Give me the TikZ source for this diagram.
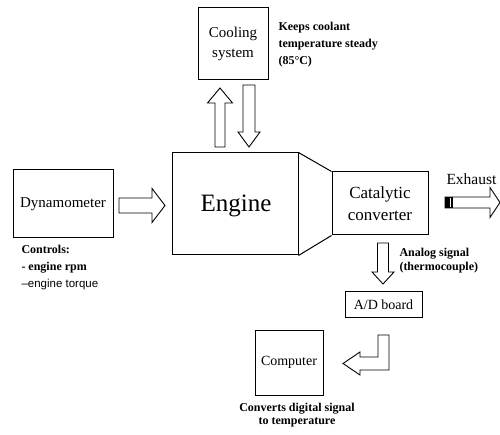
\documentclass[tikz,border=0pt]{standalone}
\usepackage{fontspec}
\setmainfont{Liberation Serif}
\newfontfamily\annsans{Liberation Sans}
\usetikzlibrary{calc}
\newcommand\blockarr[6]{% start, angle, length, shaft half, head half, head length
  \begin{scope}[shift={(#1)},rotate=#2]
    \draw[blk] (0,-#4) -- ({#3-#6},-#4) -- ({#3-#6},-#5) -- (#3,0) -- ({#3-#6},#5) -- ({#3-#6},#4) -- (0,#4) -- cycle;
  \end{scope}}
\begin{document}
\begin{tikzpicture}[x=1pt,y=-1pt,line width=1pt,
  box/.style={draw,line width=1pt,inner sep=0pt,align=center},
  blk/.style={draw,fill=white,line width=0.9pt,line join=miter},
  ann/.style={font=\bfseries\fontsize{12}{17}\selectfont,inner sep=0pt,align=left},
  lbl/.style={font=\fontsize{15}{20}\selectfont}]
\useasboundingbox[fill=white] (0,0) rectangle (500,435);
% boxes
\node[box,lbl,minimum width=70pt,minimum height=72pt] (cool) at (233,44) {Cooling\\system};
\node[box,lbl,minimum width=100pt,minimum height=68pt] (dyn) at (63,204) {Dynamometer};
\node[box,minimum width=126pt,minimum height=102pt] (eng) at (235,204) {};
\node[font=\fontsize{25}{30}\selectfont,anchor=base] (engt) at (236,212) {Engine};
\node[box,font=\fontsize{17}{22}\selectfont,minimum width=96pt,minimum height=63pt] (cat) at (380,203.5) {Catalytic\\converter};
\node[box,font=\fontsize{14}{17}\selectfont,minimum width=77pt,minimum height=25pt] (ad) at (383.5,304.5) {A/D board};
\node[box,font=\fontsize{14}{17}\selectfont,minimum width=68pt,minimum height=65pt] (comp) at (289,362.5) {Computer};
% engine to converter taper
\draw (eng.north east) -- (cat.north west);
\draw (eng.south east) -- (cat.south west);
% annotations
\node[ann,anchor=north west] (keep) at (278,22) {Keeps coolant\\temperature steady\\(85\textdegree C)};
\node[ann,anchor=north west] (ctrl) at (21,245) {Controls:\\- engine rpm\\{\annsans\mdseries\fontsize{11.5}{17}\selectfont –engine torque}};
\node[ann,anchor=north west,font=\bfseries\fontsize{12}{14}\selectfont] (ana) at (399,248) {Analog signal\\(thermocouple)};
\node[ann,align=center,font=\bfseries\fontsize{12}{13}\selectfont] (conv) at (297,415) {Converts digital signal\\to temperature};
\node[font=\fontsize{15.5}{19}\selectfont,anchor=west,inner sep=0pt] (exh) at (446,179) {Exhaust};
% block arrows
\coordinate (upS) at (220,147);
\coordinate (dnS) at (249,85);
\coordinate (dyS) at (119,205.5);
\coordinate (anS) at (383,243);
\coordinate (exS) at (445,202.5);
\blockarr{upS}{90}{59}{5}{12.5}{15}
\blockarr{dnS}{-90}{62}{6}{11}{15}
\blockarr{dyS}{0}{46}{7.5}{17}{13}
\blockarr{anS}{-90}{41}{5.5}{11}{12}
\blockarr{exS}{0}{55}{5.5}{15}{10}
\fill (445,197) rectangle (453,208);
\draw[white,line width=0.8pt] (450,198) -- (450,207);
% elbow arrow A/D -> computer
\draw[blk] (378,335) -- (389,335) -- (389,370) -- (360,370) -- (360,375) -- (343,363.5) -- (360,352) -- (360,357) -- (378,357) -- cycle;
\end{tikzpicture}
\end{document}
